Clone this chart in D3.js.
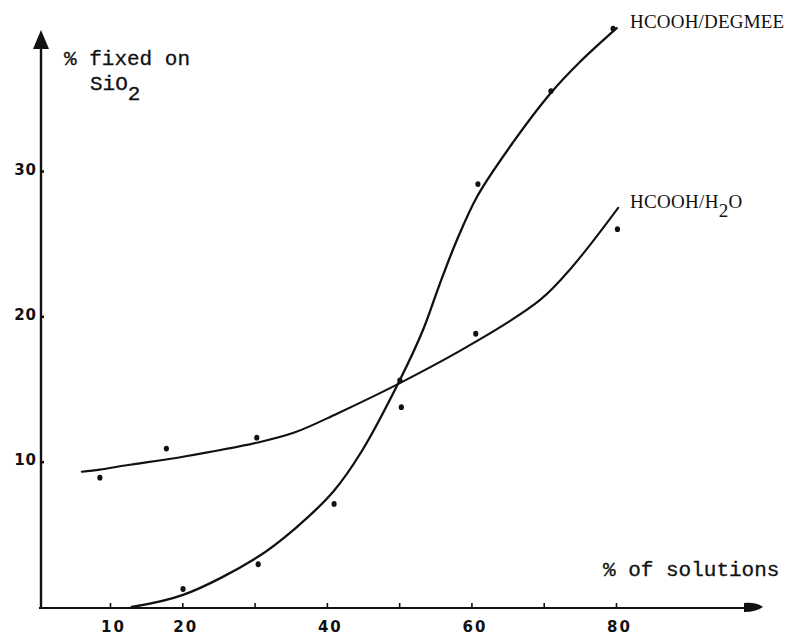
<!DOCTYPE html>
<html><head><meta charset="utf-8">
<script src="https://cdn.jsdelivr.net/npm/d3@7"></script>
<style>
body{margin:0;background:#fff;}
svg{display:block;}
</style></head>
<body>
<svg id="chart" width="786" height="637"></svg>
<script>
// ---- data ----
const xTicks = [10, 20, 30, 40, 50, 60, 70, 80];
const xTickLabels = ["10", "20", "", "40", "", "60", "", "80"];
const yTicks = [10, 20, 30];
const yTickLabels = ["10", "20", "30"];

// measured points
const h2oX = [8.6, 17.8, 30.3, 50.1, 60.6, 80.2];
const h2oY = [8.9, 10.9, 11.65, 15.6, 18.8, 26.0];
const degX = [20.1, 30.5, 41.0, 50.3, 60.9, 71.0, 79.6];
const degY = [1.24, 2.94, 7.09, 13.75, 29.1, 35.5, 39.8];

// hand-drawn fitted curves
const h2oCurveX = [6.1, 8.6, 12.3, 20.1, 30.3, 35.5, 41.4, 50.1, 60.25, 69.5, 74.1, 80.3];
const h2oCurveY = [9.31, 9.45, 9.75, 10.34, 11.3, 12.0, 13.3, 15.4, 18.15, 21.13, 23.5, 27.46];
const degCurveX = [13.0, 20.1, 30.3, 35.6, 40.9, 44.8, 50.1, 53.3, 55.6, 57.95, 60.85, 65.8, 70.86, 75.0, 80.1];
const degCurveY = [0.0, 0.83, 3.4, 5.4, 7.95, 10.7, 15.62, 19.06, 22.2, 25.2, 28.3, 32.0, 35.3, 37.5, 39.83];

const seriesNames = ["HCOOH/DEGMEE", "HCOOH/H2O"];

// ---- drawing ----
const svg = d3.select("#chart");
const x = d3.scaleLinear().domain([10, 80]).range([110, 616]);
const y = d3.scaleLinear().domain([0, 30]).range([607, 171]);
const axisY = 608, axisX = 41;

const ink = "#111";

// x axis
const gx = svg.append("g").attr("transform", `translate(0,${axisY})`);
gx.append("line").attr("x1", axisX - 2).attr("x2", 748).attr("y1", 0).attr("y2", 0)
  .attr("stroke", ink).attr("stroke-width", 1.8);
gx.append("path").attr("d", "M744,-5 Q756,-6 763,-1 Q756,4 744,4 Z").attr("fill", ink);
const xa = d3.axisBottom(x).tickValues(xTicks).tickSizeInner(-5).tickSizeOuter(0)
  .tickPadding(13).tickFormat((d, i) => xTickLabels[i]);
const gxa = gx.append("g").call(xa);
gxa.select(".domain").remove();
gxa.selectAll(".tick line").attr("stroke", ink).attr("stroke-width", 1.6);
gxa.selectAll(".tick text").attr("fill", ink)
  .style("font-family", "'DejaVu Sans', sans-serif").style("font-weight", "bold")
  .style("font-size", "15px").style("letter-spacing", "2px").attr("dx", 3);

// y axis
const gy = svg.append("g").attr("transform", `translate(${axisX},0)`);
gy.append("line").attr("x1", 0).attr("x2", 0).attr("y1", axisY + 1).attr("y2", 44)
  .attr("stroke", ink).attr("stroke-width", 2.4);
gy.append("path").attr("d", "M0,30 L8,49 L-8,49 Z").attr("fill", ink);
const ya = d3.axisLeft(y).tickValues(yTicks).tickSizeInner(-3).tickSizeOuter(0)
  .tickPadding(4).tickFormat((d, i) => yTickLabels[i]);
const gya = gy.append("g").call(ya);
gya.select(".domain").remove();
gya.selectAll(".tick line").attr("stroke", ink).attr("stroke-width", 2.5);
gya.selectAll(".tick text").attr("fill", ink)
  .style("font-family", "'DejaVu Sans', sans-serif").style("font-weight", "bold")
  .style("font-size", "15px").style("letter-spacing", "1px").attr("dy", "0.2em");

// curves
const line = d3.line().x(d => x(d[0])).y(d => y(d[1])).curve(d3.curveCatmullRom.alpha(0.5));
const h2oCurve = h2oCurveX.map((v, i) => [v, h2oCurveY[i]]);
const degCurve = degCurveX.map((v, i) => [v, degCurveY[i]]);
svg.append("path").datum(h2oCurve).attr("d", line).attr("fill", "none")
  .attr("stroke", ink).attr("stroke-width", 2.1).attr("stroke-linecap", "round");
svg.append("path").datum(degCurve).attr("d", line).attr("fill", "none")
  .attr("stroke", ink).attr("stroke-width", 2.3).attr("stroke-linecap", "round");

// points
const pts = h2oX.map((v, i) => [v, h2oY[i]]).concat(degX.map((v, i) => [v, degY[i]]));
svg.selectAll("ellipse.pt").data(pts).join("ellipse").attr("class", "pt")
  .attr("cx", d => x(d[0])).attr("cy", d => y(d[1])).attr("rx", 2.6).attr("ry", 2.9)
  .attr("fill", ink);

// texts
const mono = "'Liberation Mono', 'DejaVu Sans Mono', monospace";
const serif = "'Liberation Serif', 'DejaVu Serif', serif";
function txt(xp, yp, s, fam, size) {
  return svg.append("text").attr("x", xp).attr("y", yp).attr("fill", ink)
    .style("font-family", fam).style("font-size", size + "px").text(s);
}
txt(64, 65, "% fixed on", mono, 21).attr("stroke", ink).attr("stroke-width", 0.3);
const si = txt(90, 90, "SiO", mono, 21).attr("stroke", ink).attr("stroke-width", 0.3);
si.append("tspan").attr("dy", 10).text("2");
txt(603, 576, "% of solutions", mono, 21).attr("stroke", ink).attr("stroke-width", 0.3);

txt(630, 28, seriesNames[0], serif, 19).style("letter-spacing", "0.2px");
const h2oLab = svg.append("text").attr("x", 630).attr("y", 208).attr("fill", ink)
  .style("font-family", serif).style("font-size", "19px").style("letter-spacing", "0.3px");
h2oLab.append("tspan").text("HCOOH/H");
h2oLab.append("tspan").attr("dy", 9).text("2");
h2oLab.append("tspan").attr("dy", -9).text("O");
</script>
</body></html>
